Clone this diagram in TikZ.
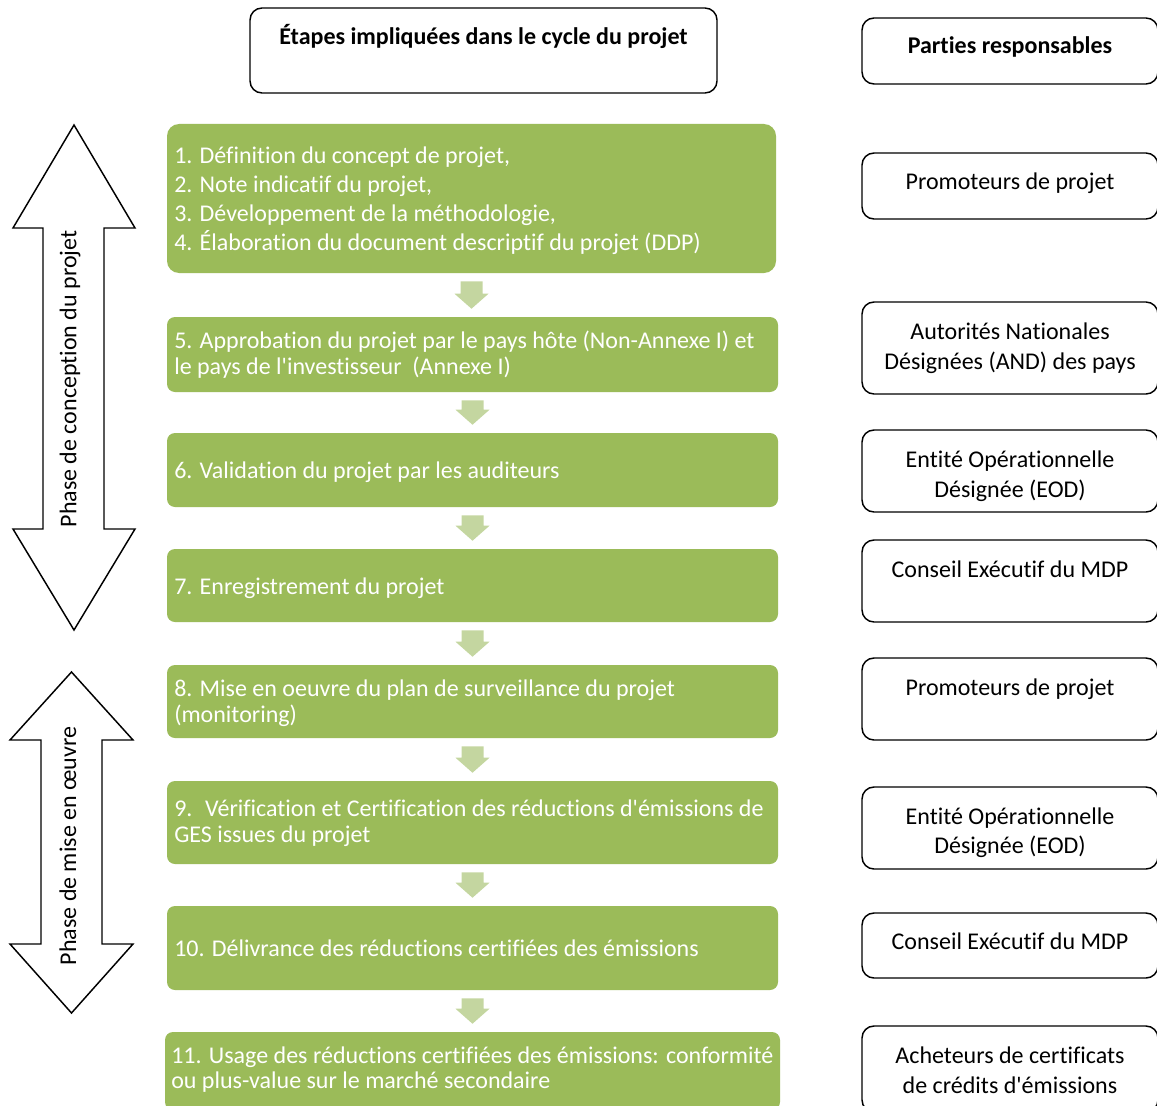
\documentclass[tikz,border=0pt]{standalone}
\usepackage{fontspec}
\setmainfont{Carlito}[Ligatures={TeXOff,NoCommon}]
\usetikzlibrary{fit,calc}
\definecolor{boxgreen}{RGB}{155,187,89}
\definecolor{arrgreen}{RGB}{196,214,160}
\newcommand\flowarrow[2]{%
  \fill[arrgreen] let \p1=(#1.south), \p2=(#2.north) in
    (\x1-8.25pt,\y1-6pt) -- (\x1+8.25pt,\y1-6pt) -- (\x1+8.25pt,\y2+17.25pt)
    -- (\x1+12.75pt,\y2+17.25pt) -- (\x1,\y2+6pt) -- (\x1-12.75pt,\y2+17.25pt)
    -- (\x1-8.25pt,\y2+17.25pt) -- cycle;}
\begin{document}
\begin{tikzpicture}[x=0.75pt,y=-0.75pt,
  greenbox/.style={fill=boxgreen, draw=none, rounded corners=6pt, inner sep=0pt},
  whitebox/.style={draw=black, line width=1.1pt, rounded corners=9pt, fill=white, inner sep=0pt},
  gtext/.style={text=white, font=\fontsize{18}{22}\selectfont, inner sep=0pt, anchor=base west},
  btext/.style={text=black, font=\fontsize{18}{22}\selectfont, inner sep=0pt, anchor=base},
  bigarrow/.style={draw=black, line width=1.1pt, fill=white, line join=miter},
  ]
\useasboundingbox (0,0) rectangle (1157,1106);

% ---- header boxes
\node[whitebox, fit={(250,8)(717,93)}] (title) {};
\node[btext, font=\fontsize{18}{22}\selectfont\bfseries] (titlet) at (483.5,45) {Étapes impliquées dans le cycle du projet};
\node[whitebox, fit={(862,18)(1158,84)}] (parties) {};
\node[btext, font=\fontsize{18}{22}\selectfont\bfseries] (partiest) at (1010,54) {Parties responsables};

% ---- green step boxes
\node[greenbox, rounded corners=9pt, fit={(167,124)(776,273)}] (b1) {};
\node[greenbox, fit={(167,317)(778,392)}] (b2) {};
\node[greenbox, fit={(167,433)(778,507)}] (b3) {};
\node[greenbox, fit={(167,549)(778,622)}] (b4) {};
\node[greenbox, fit={(167,665)(778,738)}] (b5) {};
\node[greenbox, fit={(167,781)(778,864)}] (b6) {};
\node[greenbox, fit={(167,906)(778,990)}] (b7) {};
\node[greenbox, fit={(165,1032)(780,1110)}] (b8) {};

\node[gtext] (t1a) at (174,163) {1. Définition du concept de projet,};
\node[gtext] (t1b) at (174,192) {2. Note indicatif du projet,};
\node[gtext] (t1c) at (174,221) {3. Développement de la méthodologie,};
\node[gtext] (t1d) at (174,250) {4. Élaboration du document descriptif du projet (DDP)};
\node[gtext] (t2a) at (174,348) {5. Approbation du projet par le pays hôte (Non-Annexe I) et};
\node[gtext] (t2b) at (174,374) {le pays de l'investisseur~ (Annexe I)};
\node[gtext] (t3) at (174,478) {6. Validation du projet par les auditeurs};
\node[gtext] (t4) at (174,594) {7. Enregistrement du projet};
\node[gtext] (t5a) at (174,696) {8. Mise en oeuvre du plan de surveillance du projet};
\node[gtext] (t5b) at (174,722) {(monitoring)};
\node[gtext] (t6a) at (174,816) {9.~ Vérification et Certification des réductions d'émissions de};
\node[gtext] (t6b) at (174,842) {GES issues du projet};
\node[gtext] (t7) at (174,956) {10. Délivrance des réductions certifiées des émissions};
\node[gtext] (t8a) at (171,1063) {11. Usage des réductions certifiées des émissions: conformité};
\node[gtext] (t8b) at (171,1088) {ou plus-value sur le marché secondaire};

% ---- flow arrows
\flowarrow{b1}{b2}
\flowarrow{b2}{b3}
\flowarrow{b3}{b4}
\flowarrow{b4}{b5}
\flowarrow{b5}{b6}
\flowarrow{b6}{b7}
\flowarrow{b7}{b8}

% ---- responsible parties
\node[whitebox, fit={(862,153)(1158,219)}] (r1) {};
\node[btext] (r1t) at (1010,189) {Promoteurs de projet};
\node[whitebox, fit={(862,302)(1158,394)}] (r2) {};
\node[btext] (r2a) at (1010,339) {Autorités Nationales};
\node[btext] (r2b) at (1010,369) {Désignées (AND) des pays};
\node[whitebox, fit={(862,430)(1158,512)}] (r3) {};
\node[btext] (r3a) at (1010,467) {Entité Opérationnelle};
\node[btext] (r3b) at (1010,497) {Désignée (EOD)};
\node[whitebox, fit={(862,540)(1158,622)}] (r4) {};
\node[btext] (r4t) at (1010,577) {Conseil Exécutif du MDP};
\node[whitebox, fit={(862,658)(1158,740)}] (r5) {};
\node[btext] (r5t) at (1010,695) {Promoteurs de projet};
\node[whitebox, fit={(862,787)(1158,869)}] (r6) {};
\node[btext] (r6a) at (1010,824) {Entité Opérationnelle};
\node[btext] (r6b) at (1010,853) {Désignée (EOD)};
\node[whitebox, fit={(862,913)(1158,978)}] (r7) {};
\node[btext] (r7t) at (1010,949) {Conseil Exécutif du MDP};
\node[whitebox, fit={(862,1026)(1158,1112)}] (r8) {};
\node[btext] (r8a) at (1010,1063) {Acheteurs de certificats};
\node[btext] (r8b) at (1010,1093) {de crédits d'émissions};

% ---- phase double arrows
\draw[bigarrow] (74,125) -- (135,228) -- (104,228) -- (104,529) -- (135,529) -- (74,630)
  -- (13,529) -- (43,529) -- (43,228) -- (13,228) -- cycle;
\node[btext, anchor=center, rotate=90] (phase1) at (70,379) {Phase de conception du projet};
\draw[bigarrow] (71.5,672) -- (133,740) -- (102,740) -- (102,944) -- (133,944) -- (71.5,1013)
  -- (10,944) -- (41,944) -- (41,740) -- (10,740) -- cycle;
\node[btext, anchor=center, rotate=90] (phase2) at (68,846) {Phase de mise en œuvre};
\end{tikzpicture}
\end{document}
